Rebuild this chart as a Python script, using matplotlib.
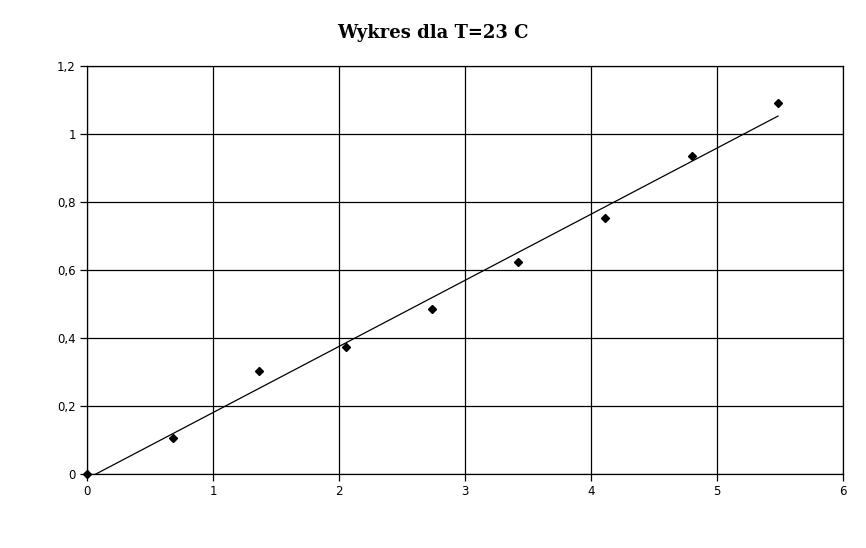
import numpy as np
import matplotlib
matplotlib.use("Agg")
import matplotlib.pyplot as plt
from matplotlib.ticker import FuncFormatter

x_vals = [0.0, 0.683, 1.365, 2.056, 2.738, 3.42, 4.111, 4.80, 5.484]
y_vals = [0.0, 0.106, 0.303, 0.374, 0.485, 0.624, 0.753, 0.935, 1.091]
x_ticks = [0, 1, 2, 3, 4, 5, 6]
y_ticks = [0, 0.2, 0.4, 0.6, 0.8, 1.0, 1.2]
title = "Wykres dla T=23 C"

fig = plt.figure(figsize=(8.66, 5.48), dpi=100)
ax = fig.add_axes([87/866, 1-474/548, (843-87)/866, (474-66)/548])

ax.grid(True, color="black", linewidth=0.9)
ax.set_axisbelow(True)

slope, intercept = np.polyfit(x_vals, y_vals, 1)
xl = np.array([x_vals[0], x_vals[-1]])
ax.plot(xl, slope*xl + intercept, color="black", linewidth=0.9)
ax.plot(x_vals, y_vals, linestyle="none", marker="D", markersize=4.5,
        color="black", clip_on=False, zorder=5)

ax.set_xlim(0, 6)
ax.set_ylim(0, 1.2)
ax.set_xticks(x_ticks)
ax.set_yticks(y_ticks)

def fmt(v, pos):
    s = ("%g" % round(v, 2))
    return s.replace(".", ",")
ax.xaxis.set_major_formatter(FuncFormatter(fmt))
ax.yaxis.set_major_formatter(FuncFormatter(fmt))
ax.tick_params(direction="out", length=5, width=0.9, labelsize=8.5, color="black", pad=3)
for s in ax.spines.values():
    s.set_color("black")
    s.set_linewidth(0.9)

fig.text(433/866, 1-33/548, title, ha="center", va="center",
         fontsize=13, fontweight="bold", family="DejaVu Serif")

fig.savefig("out.png", dpi=100, facecolor="white")
